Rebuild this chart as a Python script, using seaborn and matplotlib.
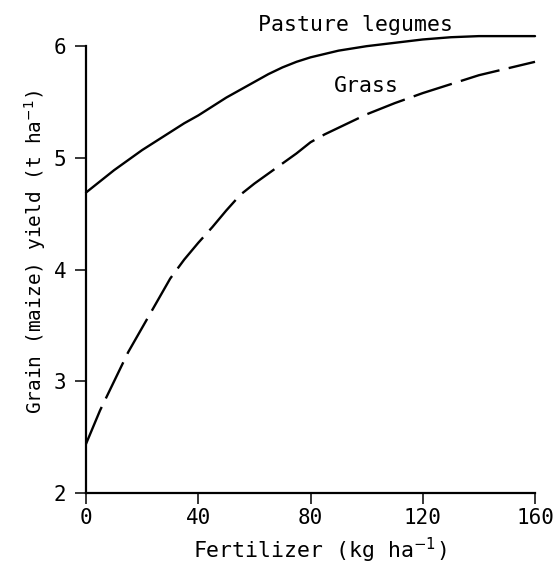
import matplotlib
matplotlib.use("Agg")
import matplotlib.pyplot as plt
import seaborn as sns
import pandas as pd

# values
fertilizer = [0, 5, 10, 15, 20, 25, 30, 35, 40, 45, 50, 55, 60, 65, 70, 75, 80, 85, 90, 95, 100,
              110, 120, 130, 140, 150, 160]
legumes = [4.69, 4.79, 4.89, 4.98, 5.07, 5.15, 5.23, 5.31, 5.38, 5.46, 5.54, 5.61, 5.68, 5.75,
           5.81, 5.86, 5.90, 5.93, 5.96, 5.98, 6.00, 6.03, 6.06, 6.08, 6.09, 6.09, 6.09]
grass = [2.44, 2.74, 3.00, 3.26, 3.48, 3.70, 3.92, 4.09, 4.24, 4.38, 4.53, 4.67, 4.77, 4.86,
         4.95, 5.04, 5.14, 5.21, 5.27, 5.33, 5.39, 5.49, 5.58, 5.66, 5.74, 5.80, 5.86]
series_names = ["Pasture legumes", "Grass"]
x_ticks = [0, 40, 80, 120, 160]
y_ticks = [2, 3, 4, 5, 6]

df = pd.DataFrame({
    "fertilizer": fertilizer * 2,
    "yield": legumes + grass,
    "series": [series_names[0]] * len(legumes) + [series_names[1]] * len(grass),
})

sns.set_style("ticks")
plt.rcParams["font.family"] = ["DejaVu Sans Mono", "DejaVu Sans"]
plt.rcParams["text.color"] = "black"
plt.rcParams["axes.labelcolor"] = "black"

fig = plt.figure(figsize=(5.55, 5.70), dpi=100)
ax = fig.add_axes([0.155, 0.135, 0.809, 0.784])

sns.lineplot(data=df, x="fertilizer", y="yield", style="series",
             dashes={series_names[0]: "", series_names[1]: (17, 4)},
             color="black", linewidth=1.7, legend=False, ax=ax)
for line in ax.get_lines():
    line.set_clip_on(False)
    line.set_solid_joinstyle("round")
    line.set_dash_joinstyle("round")

ax.text(96, 6.19, "Pasture legumes", ha="center", va="center", fontsize=15.5)
ax.text(100, 5.64, "Grass", ha="center", va="center", fontsize=15.5)

ax.set_xlim(0, 160)
ax.set_ylim(2, 6)
ax.set_xticks(x_ticks)
ax.set_yticks(y_ticks)
ax.tick_params(axis="both", direction="out", length=8, width=1.1, labelsize=15,
               color="black", labelcolor="black")
ax.tick_params(axis="y", pad=6)
ax.tick_params(axis="x", pad=3)
sns.despine(ax=ax)
for side in ["left", "bottom"]:
    ax.spines[side].set_linewidth(1.6)
    ax.spines[side].set_color("black")

ax.set_xlabel("Fertilizer (kg ha$^{-1}$)", fontsize=15.5)
ax.set_ylabel("Grain (maize) yield (t ha$^{-1}$)", fontsize=14)
ax.xaxis.set_label_coords(0.52, -0.095)
ax.yaxis.set_label_coords(-0.085, 0.54)

fig.savefig("out.png", dpi=100)
